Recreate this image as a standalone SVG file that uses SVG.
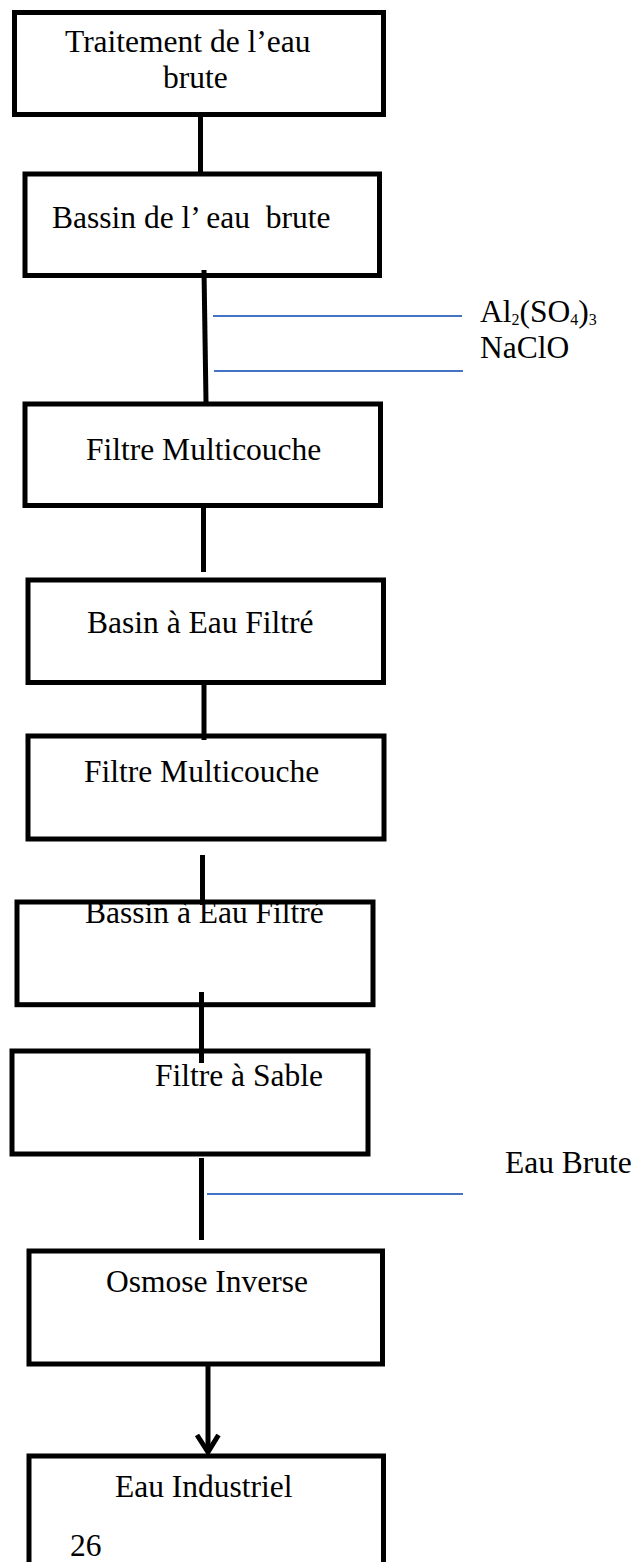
<svg xmlns="http://www.w3.org/2000/svg" width="641" height="1562" viewBox="0 0 641 1562">
<style>
.box{fill:none;stroke:#000;stroke-width:5}
.lbl{font-family:"Liberation Serif","Times New Roman",serif;font-size:31.5px;fill:#000;white-space:pre}
.sub{font-size:16px}
.con{stroke:#000;stroke-width:5;fill:none}
.blue{stroke:#4472C4;stroke-width:2}
</style>
<defs>
<clipPath id="clip6"><rect x="0" y="903" width="641" height="120"/></clipPath>
</defs>
<rect width="641" height="1562" fill="#fff"/>
<g id="n1"><rect class="box" x="14.5" y="12.5" width="369" height="102"/><text class="lbl" x="65" y="51.7">Traitement de l’eau</text><text class="lbl" x="163" y="88">brute</text></g>
<g id="n2"><rect class="box" x="25" y="174" width="354.5" height="101.5"/><text class="lbl" x="52" y="228" xml:space="preserve">Bassin de l’ eau  brute</text></g>
<g id="n3"><rect class="box" x="25" y="404" width="355.5" height="101.5"/><text class="lbl" x="86" y="460">Filtre Multicouche</text></g>
<g id="n4"><rect class="box" x="28" y="580" width="355.5" height="102.5"/><text class="lbl" x="87" y="633">Basin à Eau Filtré</text></g>
<g id="n5"><rect class="box" x="28" y="736" width="356" height="103"/><text class="lbl" x="84" y="782">Filtre Multicouche</text></g>
<g id="n6"><text class="lbl" x="85" y="923" clip-path="url(#clip6)">Bassin à Eau Filtré</text><rect class="box" x="17" y="902" width="356" height="102.7"/></g>
<g id="n7"><rect class="box" x="12" y="1051" width="356" height="103"/><text class="lbl" x="155" y="1086">Filtre à Sable</text></g>
<g id="n8"><rect class="box" x="29" y="1251" width="353.5" height="113"/><text class="lbl" x="106" y="1292">Osmose Inverse</text></g>
<g id="n9"><rect class="box" x="29" y="1456" width="354.5" height="200"/><text class="lbl" x="115" y="1497">Eau Industriel</text><text class="lbl" x="70" y="1556">26</text></g>
<g id="labels">
<text class="lbl" x="480" y="322">Al<tspan class="sub" dy="3">2</tspan><tspan dy="-3">(SO</tspan><tspan class="sub" dy="3">4</tspan><tspan dy="-3">)</tspan><tspan class="sub" dy="3">3</tspan></text>
<text class="lbl" x="480" y="358">NaClO</text>
<text class="lbl" x="505" y="1173">Eau Brute</text>
</g>
<g id="connectors">
<line class="con" x1="200.5" y1="117" x2="200.5" y2="176"/>
<line class="con" x1="204" y1="270" x2="206" y2="402"/>
<line class="blue" x1="213" y1="316" x2="462" y2="316"/>
<line class="blue" x1="214" y1="371" x2="463" y2="371"/>
<line class="con" x1="203.5" y1="503" x2="203.5" y2="572"/>
<line class="con" x1="204" y1="682" x2="204" y2="740" stroke-width="8"/>
<line class="con" x1="202.5" y1="855" x2="202.5" y2="905"/>
<line class="con" x1="201.5" y1="992" x2="201.5" y2="1063"/>
<line class="con" x1="201.5" y1="1158" x2="201.5" y2="1240"/>
<line class="blue" x1="207" y1="1194" x2="463" y2="1194"/>
<line class="con" x1="208" y1="1364" x2="208" y2="1451"/>
<polyline class="con" points="197,1435 208,1452 218.5,1435"/>
</g>
</svg>
